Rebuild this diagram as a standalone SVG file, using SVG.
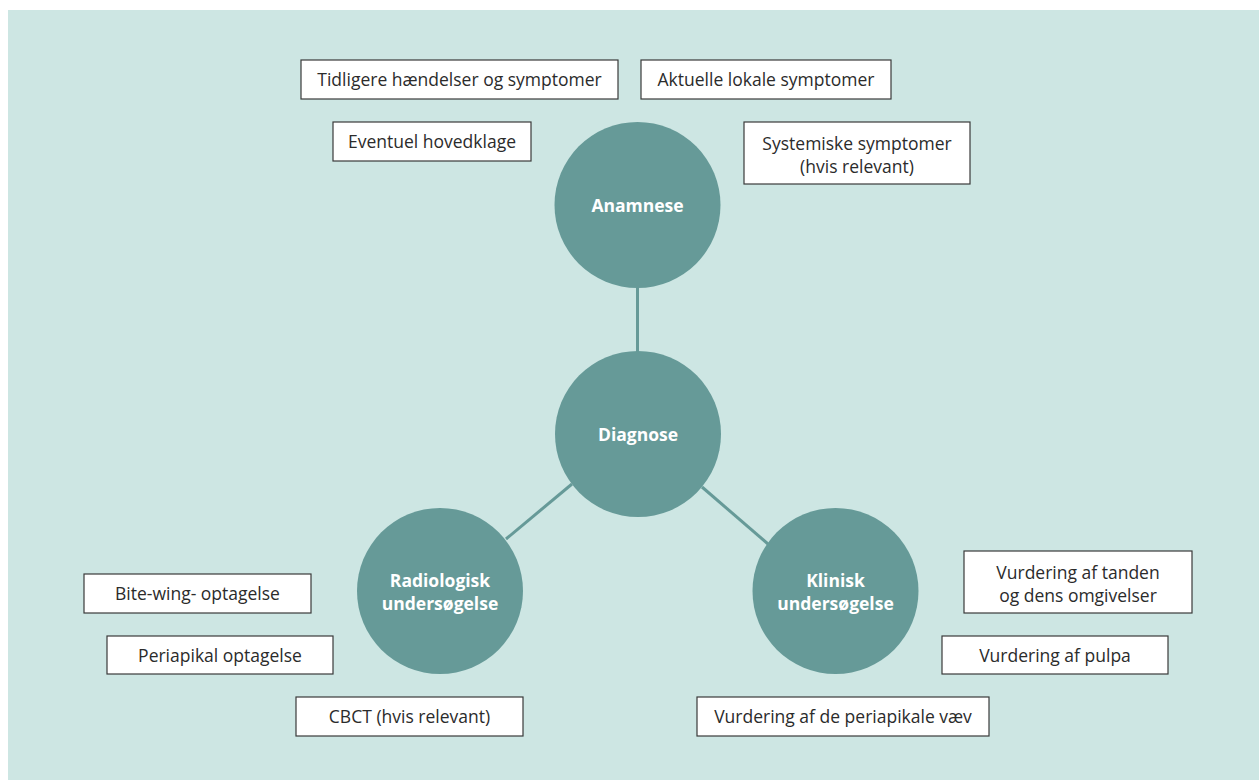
<svg xmlns="http://www.w3.org/2000/svg" width="1259" height="780" viewBox="0 0 1259 780">
  <style>
    .panel { fill: #cde6e3; }
    .hub { fill: #669a98; }
    .link { stroke: #669a98; stroke-width: 3; fill: none; }
    .box { fill: #ffffff; stroke: #3a3a3a; stroke-width: 1.2; }
    .lbl { font-family: "Open Sans", "Noto Sans", "Liberation Sans", sans-serif; font-size: 17.5px; fill: #2b2b2b; text-anchor: middle; }
    .hubtxt { font-family: "Open Sans", "Noto Sans", "Liberation Sans", sans-serif; font-size: 17.5px; font-weight: 700; fill: #ffffff; text-anchor: middle; }
  </style>

  <rect width="1259" height="780" fill="#ffffff"/>
  <rect class="panel" x="8" y="10" width="1251" height="770"/>

  <!-- connectors between the hubs -->
  <g id="connectors">
    <line class="link" x1="637.5" y1="287" x2="637.5" y2="352"/>
    <line class="link" x1="572" y1="484" x2="506" y2="539"/>
    <line class="link" x1="702" y1="487" x2="768" y2="544"/>
  </g>

  <!-- hubs -->
  <g id="anamnese">
    <circle class="hub" cx="637.5" cy="205" r="83"/>
    <text class="hubtxt" x="637.5" y="212">Anamnese</text>
  </g>
  <g id="diagnose">
    <circle class="hub" cx="638" cy="434" r="83"/>
    <text class="hubtxt" x="638" y="441">Diagnose</text>
  </g>
  <g id="radiologisk">
    <circle class="hub" cx="440" cy="591" r="83"/>
    <text class="hubtxt" x="440" y="587">Radiologisk</text>
    <text class="hubtxt" x="440" y="610">undersøgelse</text>
  </g>
  <g id="klinisk">
    <circle class="hub" cx="835.5" cy="591" r="83"/>
    <text class="hubtxt" x="835.5" y="587">Klinisk</text>
    <text class="hubtxt" x="835.5" y="610">undersøgelse</text>
  </g>

  <!-- anamnese items -->
  <g id="tidligere">
    <rect class="box" x="301" y="60" width="317" height="39"/>
    <text class="lbl" x="459.5" y="86">Tidligere hændelser og symptomer</text>
  </g>
  <g id="aktuelle">
    <rect class="box" x="641" y="60" width="250" height="39"/>
    <text class="lbl" x="766" y="86">Aktuelle lokale symptomer</text>
  </g>
  <g id="hovedklage">
    <rect class="box" x="333" y="122" width="198" height="39"/>
    <text class="lbl" x="432" y="148">Eventuel hovedklage</text>
  </g>
  <g id="systemiske">
    <rect class="box" x="744" y="122" width="226" height="62"/>
    <text class="lbl" x="857" y="150">Systemiske symptomer</text>
    <text class="lbl" x="857" y="173">(hvis relevant)</text>
  </g>

  <!-- radiological items -->
  <g id="bitewing">
    <rect class="box" x="84" y="574" width="227" height="39"/>
    <text class="lbl" x="197.5" y="600">Bite-wing- optagelse</text>
  </g>
  <g id="periapikal">
    <rect class="box" x="107" y="636" width="226" height="38"/>
    <text class="lbl" x="220" y="662">Periapikal optagelse</text>
  </g>
  <g id="cbct">
    <rect class="box" x="296" y="697" width="227" height="39"/>
    <text class="lbl" x="409.5" y="723">CBCT (hvis relevant)</text>
  </g>

  <!-- clinical items -->
  <g id="tanden">
    <rect class="box" x="964" y="551" width="228" height="62"/>
    <text class="lbl" x="1078" y="579">Vurdering af tanden</text>
    <text class="lbl" x="1078" y="602">og dens omgivelser</text>
  </g>
  <g id="pulpa">
    <rect class="box" x="942" y="636" width="226" height="38"/>
    <text class="lbl" x="1055" y="662">Vurdering af pulpa</text>
  </g>
  <g id="periapikale">
    <rect class="box" x="697" y="697" width="292" height="39"/>
    <text class="lbl" x="843" y="723">Vurdering af de periapikale væv</text>
  </g>
</svg>
